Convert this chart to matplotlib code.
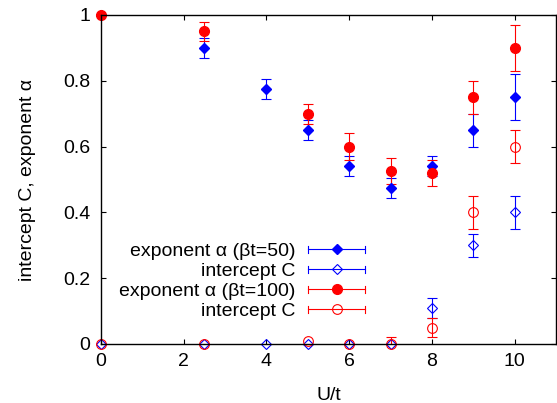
import numpy as np
import matplotlib
matplotlib.use("Agg")
import matplotlib.pyplot as plt
from matplotlib.legend_handler import HandlerBase
from matplotlib.container import ErrorbarContainer
from matplotlib.lines import Line2D

plt.rcParams['font.family'] = ['Liberation Sans', 'DejaVu Sans']
plt.rcParams['font.size'] = 14

# data
U_50 = [0, 2.5, 4, 5, 6, 7, 8, 9, 10]
alpha_50 = [1.0, 0.90, 0.775, 0.65, 0.54, 0.475, 0.54, 0.65, 0.75]
alpha_50_err = [0, 0.03, 0.03, 0.03, 0.03, 0.03, 0.03, 0.05, 0.07]
C_50 = [0, 0, 0, 0, 0, 0, 0.11, 0.30, 0.40]
C_50_err = [0, 0, 0, 0, 0, 0, 0.03, 0.035, 0.05]

U_100 = [0, 2.5, 5, 6, 7, 8, 9, 10]
alpha_100 = [1.0, 0.95, 0.70, 0.60, 0.525, 0.52, 0.75, 0.90]
alpha_100_err = [0, 0.03, 0.03, 0.04, 0.04, 0.04, 0.05, 0.07]
C_100 = [0, 0, 0.01, 0, 0, 0.05, 0.40, 0.60]
C_100_err = [0, 0, 0, 0, 0.02, 0.03, 0.05, 0.05]

labels = ["exponent α (βt=50)", "intercept C", "exponent α (βt=100)", "intercept C"]


class HandlerHErr(HandlerBase):
    # gnuplot-like legend sample: horizontal bar with caps, marker in the middle
    def create_artists(self, legend, orig_handle, xdescent, ydescent,
                       width, height, fontsize, trans):
        src = orig_handle[0]
        c = src.get_color()
        y = height / 2 - ydescent
        x0, x1 = -xdescent, width - xdescent
        h = 2.5
        bar = Line2D([x0, x1], [y, y], color=c, lw=0.8)
        cap0 = Line2D([x0, x0], [y - h, y + h], color=c, lw=0.8)
        cap1 = Line2D([x1, x1], [y - h, y + h], color=c, lw=0.8)
        mk = Line2D([(x0 + x1) / 2], [y], linestyle='none', marker=src.get_marker(),
                    markersize=src.get_markersize(), markerfacecolor=src.get_markerfacecolor(),
                    markeredgecolor=src.get_markeredgecolor(),
                    markeredgewidth=src.get_markeredgewidth())
        arts = [bar, cap0, cap1, mk]
        for a in arts:
            a.set_transform(trans)
        return arts


def nz(e):
    e = np.asarray(e, dtype=float)
    return np.where(e > 0, e, np.nan)


fig = plt.figure(figsize=(5.57, 4.03), dpi=100)
ax = fig.add_axes([101 / 557, 1 - 344 / 403, 455 / 557, 329 / 403])

kw = dict(linestyle='none', capsize=3.6, elinewidth=0.8, capthick=0.8)
h1 = ax.errorbar(U_50, alpha_50, yerr=nz(alpha_50_err), fmt='D', color='blue',
                 markersize=5.2, **kw)
h2 = ax.errorbar(U_50, C_50, yerr=nz(C_50_err), fmt='D', color='blue', mfc='none',
                 markersize=5.2, mew=0.8, **kw)
h3 = ax.errorbar(U_100, alpha_100, yerr=nz(alpha_100_err), fmt='o', color='red',
                 markersize=7, **kw)
h4 = ax.errorbar(U_100, C_100, yerr=nz(C_100_err), fmt='o', color='red', mfc='none',
                 markersize=7, mew=0.8, **kw)
for h in (h1, h2, h3, h4):
    h[0].set_clip_on(False)

ax.set_xlim(0, 11)
ax.set_ylim(0, 1)
ax.set_xticks([0, 2, 4, 6, 8, 10])
ax.set_yticks([0, 0.2, 0.4, 0.6, 0.8, 1])
ax.set_yticklabels(['0', '0.2', '0.4', '0.6', '0.8', '1'])
ax.tick_params(direction='in', top=True, right=True, length=3.6, width=0.8)
ax.tick_params(axis='x', pad=6.5)
ax.tick_params(axis='y', pad=7.5)
for s in ax.spines.values():
    s.set_linewidth(1.0)

ax.set_xlabel('U/t', labelpad=12)
ax.set_ylabel('intercept C, exponent α', labelpad=20)

ax.legend([h1, h2, h3, h4], labels, handler_map={ErrorbarContainer: HandlerHErr()},
          markerfirst=False, frameon=False, loc='center right',
          bbox_to_anchor=(0.581, 0.191), borderpad=0, borderaxespad=0,
          handlelength=2.93, handletextpad=0.67, labelspacing=0.12)

fig.savefig('out.png', dpi=100)
